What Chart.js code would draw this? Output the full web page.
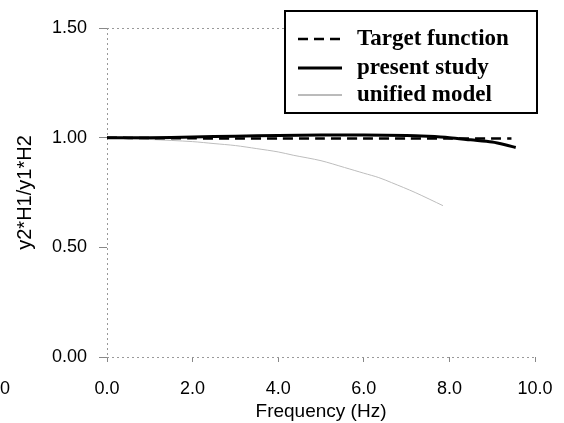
<!DOCTYPE html>
<html>
<head>
<meta charset="utf-8">
<script src="https://cdn.jsdelivr.net/npm/chart.js@4.4.1/dist/chart.umd.min.js"></script>
<style>
  html, body { margin: 0; padding: 0; background: #fff; }
  #wrap { width: 564px; height: 423px; }
</style>
</head>
<body>
<div id="wrap"><canvas id="c" width="564" height="423"></canvas></div>
<script>
// Data (Frequency in Hz, ratio)
const targetX = [0, 1, 2, 3, 4, 5, 6, 7, 8, 9, 9.45];
const targetY = [1.0, 0.998, 0.997, 0.996, 0.996, 0.996, 0.996, 0.996, 0.996, 0.996, 0.996];

const presentX = [0, 1, 2, 3, 4, 5, 6, 7, 7.5, 8, 8.5, 9, 9.3, 9.55];
const presentY = [1.0, 1.0, 1.003, 1.007, 1.01, 1.012, 1.012, 1.01, 1.006, 1.0, 0.99, 0.98, 0.968, 0.955];

const unifiedX = [0, 1, 2, 2.5, 3, 3.5, 4, 4.35, 5, 5.55, 6, 6.35, 6.65, 7.2, 7.85];
const unifiedY = [1.0, 0.992, 0.982, 0.973, 0.964, 0.95, 0.935, 0.92, 0.895, 0.864, 0.838, 0.818, 0.795, 0.75, 0.69];

const xTicks = [0, 2, 4, 6, 8, 10];
const yTicks = [0, 0.5, 1.0, 1.5];

const seriesNames = ['Target function', 'present study', 'unified model'];

function pts(xs, ys) {
  return xs.map((x, i) => ({ x: x, y: ys[i] }));
}

// legend box drawn inside the plot, top right, like the original figure
const boxLegend = {
  id: 'boxLegend',
  afterDraw(chart) {
    const ctx = chart.ctx;
    const left = 285, top = 11, right = 537, bottom = 113;
    const rows = [39, 68, 95];
    ctx.save();
    ctx.fillStyle = '#fff';
    ctx.fillRect(left, top, right - left, bottom - top);
    ctx.strokeStyle = '#000';
    ctx.lineWidth = 2;
    ctx.strokeRect(left, top, right - left, bottom - top);
    ctx.font = 'bold 23px "Liberation Serif"';
    ctx.textBaseline = 'middle';
    chart.data.datasets.forEach((ds, i) => {
      const y = rows[i];
      ctx.beginPath();
      ctx.strokeStyle = ds.label === seriesNames[2] ? '#777' : ds.borderColor;
      ctx.lineWidth = ds.borderWidth;
      ctx.setLineDash(ds.borderDash || []);
      ctx.moveTo(298, y);
      ctx.lineTo(342, y);
      ctx.stroke();
      ctx.setLineDash([]);
      ctx.fillStyle = '#000';
      ctx.fillText(ds.label, 357, y);
    });
    // stray "0" at the left edge of the scanned figure
    ctx.font = '18px "Liberation Sans"';
    ctx.fillStyle = '#000';
    ctx.textAlign = 'left';
    ctx.fillText('0', 0, 389);
    ctx.restore();
  }
};

new Chart(document.getElementById('c'), {
  type: 'line',
  data: {
    datasets: [
      {
        label: seriesNames[0],
        data: pts(targetX, targetY),
        borderColor: '#000',
        borderWidth: 2.5,
        borderDash: [10, 6],
        pointRadius: 0,
        tension: 0.3
      },
      {
        label: seriesNames[1],
        data: pts(presentX, presentY),
        borderColor: '#000',
        borderWidth: 3,
        pointRadius: 0,
        tension: 0.3
      },
      {
        label: seriesNames[2],
        data: pts(unifiedX, unifiedY),
        borderColor: '#bdbdbd',
        borderWidth: 1,
        pointRadius: 0,
        tension: 0.3
      }
    ]
  },
  options: {
    responsive: false,
    animation: false,
    layout: { padding: { top: 28, right: 29, bottom: 0, left: 0 } },
    plugins: {
      legend: { display: false },
      tooltip: { enabled: false }
    },
    scales: {
      x: {
        type: 'linear',
        min: 0,
        max: 10,
        afterBuildTicks: axis => { axis.ticks = xTicks.map(v => ({ value: v })); },
        afterFit: axis => {
          axis.height = 66;
          axis.paddingLeft = 0;
          axis.paddingRight = 0;
        },
        grid: {
          color: ctx => ctx.tick && ctx.tick.value === 0 ? '#999' : 'rgba(0,0,0,0)',
          tickColor: '#888',
          tickLength: 5,
          tickBorderDash: []
        },
        border: { display: false, dash: [2, 3] },
        ticks: {
          color: '#000',
          font: { family: 'Liberation Sans', size: 18 },
          padding: 16,
          maxRotation: 0,
          callback: v => v.toFixed(1)
        },
        title: {
          display: true,
          text: 'Frequency (Hz)',
          color: '#000',
          font: { family: 'Liberation Sans', size: 19 },
          padding: { top: 0, bottom: 0 }
        }
      },
      y: {
        type: 'linear',
        min: 0,
        max: 1.5,
        afterBuildTicks: axis => { axis.ticks = yTicks.map(v => ({ value: v })); },
        afterFit: axis => { axis.width = 107; },
        grid: {
          color: ctx => ctx.tick && (ctx.tick.value === 1.5 || ctx.tick.value === 0) ? '#999' : 'rgba(0,0,0,0)',
          tickColor: '#888',
          tickLength: 8,
          tickBorderDash: [],
          lineWidth: 1
        },
        border: { display: false, dash: [2, 3] },
        ticks: {
          color: '#000',
          font: { family: 'Liberation Sans', size: 18 },
          padding: 12,
          callback: v => v.toFixed(2)
        },
        title: {
          display: true,
          text: 'y2*H1/y1*H2',
          color: '#000',
          font: { family: 'Liberation Sans', size: 20 },
          padding: { top: 13, bottom: 0 }
        }
      }
    }
  },
  plugins: [boxLegend]
});
</script>
</body>
</html>
